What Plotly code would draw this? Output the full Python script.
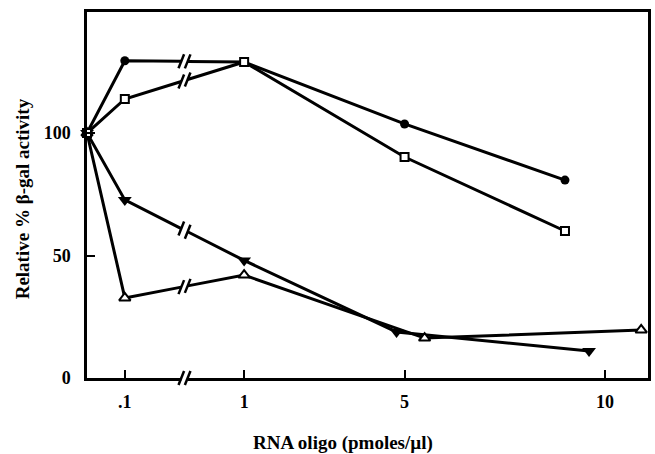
import numpy as np
import plotly.graph_objects as go

# ---------------- data ----------------
conc_circle = [0, 0.1, 1, 5, 9]
val_circle = [100, 129.5, 129, 103.7, 80.8]

conc_square = [0, 0.1, 1, 5, 9]
val_square = [100, 113.9, 129, 90.2, 60]

conc_down = [0, 0.1, 1, 4.8, 9.6]
val_down = [100, 72.7, 48, 18.8, 11]

conc_up = [0, 0.1, 1, 5.5, 10.9]
val_up = [100, 32.7, 42, 16.3, 19.6]

x_tick_conc = [0.1, 1, 5, 10]
x_tick_text = [".1", "1", "5", "10"]
y_tick_vals = [0, 50, 100]
y_tick_text = ["0", "50", "100"]

# ---------------- broken-axis scale ----------------
U0, U01 = -2.918, -1.975          # axis coordinate of conc 0 and 0.1
XR = [U0, 11.07]
YR = [0, 149.4]
W, H = 655, 454
ML, MR, MT, MB = 87, 4, 12, 76
PW, PH = W - ML - MR, H - MT - MB
PXU = PW / (XR[1] - XR[0])        # px per x unit
PYU = PH / (YR[1] - YR[0])        # px per y unit


def to_u(c):
    c = np.asarray(c, dtype=float)
    return np.where(c <= 1, np.interp(c, [0, 0.1, 1], [U0, U01, 1.0]), c)


UBREAK = (U01 + 1.0) / 2
GAP = 3.2  # px half gap
shapes = []


def slash(xc, yc, xref="x", yref="y", ypaper=False):
    dx = 2.8 / PXU
    dy = (7 / PH) if ypaper else (7 / PYU)
    return dict(type="line", xref=xref, yref=yref, x0=xc - dx, y0=yc - dy,
                x1=xc + dx, y1=yc + dy, line=dict(color="black", width=2.5),
                layer="above")


def series_with_break(conc, vals):
    u = to_u(conc)
    xs, ys = [], []
    for i in range(len(u)):
        xs.append(u[i]); ys.append(vals[i])
        if i + 1 < len(u) and u[i] < UBREAK < u[i + 1]:
            def yat(x):
                return vals[i] + (vals[i + 1] - vals[i]) * (x - u[i]) / (u[i + 1] - u[i])
            xa, xb = UBREAK - GAP / PXU, UBREAK + GAP / PXU
            xs += [xa, None, xb]
            ys += [yat(xa), None, yat(xb)]
            shapes.append(slash(xa, yat(xa)))
            shapes.append(slash(xb, yat(xb)))
    return xs, ys


fig = go.Figure()
series = [
    (conc_circle, val_circle, dict(symbol="circle", size=9, color="black")),
    (conc_down, val_down, dict(symbol="triangle-down", size=12, color="black")),
    (conc_up, val_up, dict(symbol="triangle-up", size=10, color="white",
                           line=dict(color="black", width=2))),
    (conc_square, val_square, dict(symbol="square", size=8, color="white",
                                   line=dict(color="black", width=2))),
]
for conc, vals, mk in series:
    xs, ys = series_with_break(conc, vals)
    fig.add_trace(go.Scatter(x=xs, y=ys, mode="lines", line=dict(color="black", width=3),
                             connectgaps=False, cliponaxis=False, hoverinfo="skip"))
for conc, vals, mk in series:
    fig.add_trace(go.Scatter(x=to_u(conc), y=vals, mode="markers", marker=mk,
                             cliponaxis=False))

# x-axis break
xa, xb = UBREAK - GAP / PXU, UBREAK + GAP / PXU
shapes.append(dict(type="rect", xref="x", yref="paper", x0=xa, x1=xb, y0=-4 / PH, y1=4 / PH,
                   fillcolor="white", line=dict(width=0), layer="above"))
shapes.append(slash(xa, 0, yref="paper", ypaper=True))
shapes.append(slash(xb, 0, yref="paper", ypaper=True))

font = "Liberation Serif, Times New Roman, serif"
fig.update_layout(
    width=W, height=H, margin=dict(l=ML, r=MR, t=MT, b=MB),
    plot_bgcolor="white", paper_bgcolor="white", showlegend=False,
    shapes=shapes,
    font=dict(family=font, color="black"),
    xaxis=dict(range=XR, tickvals=list(to_u(x_tick_conc)), ticktext=x_tick_text,
               ticks="inside", ticklen=8, tickwidth=2, tickcolor="black",
               showline=True, linecolor="black", linewidth=2.5, mirror=True,
               showgrid=False, zeroline=False, ticklabelstandoff=6,
               tickfont=dict(size=18, weight="bold", family=font)),
    yaxis=dict(range=YR, tickvals=y_tick_vals, ticktext=y_tick_text,
               ticks="inside", ticklen=8, tickwidth=2, tickcolor="black",
               showline=True, linecolor="black", linewidth=2.5, mirror=True,
               showgrid=False, zeroline=False, ticklabelstandoff=10,
               tickfont=dict(size=18, weight="bold", family=font)),
    annotations=[
        dict(text="Relative % β-gal activity", textangle=-90, xref="paper", yref="paper",
             x=(22 - ML) / PW, y=(378 - 199) / PH, xanchor="center", yanchor="middle",
             showarrow=False, font=dict(size=19, weight="bold", family=font)),
        dict(text="RNA oligo (pmoles/µl)", xref="paper", yref="paper",
             x=(344 - ML) / PW, y=(378 - 443) / PH, xanchor="center", yanchor="middle",
             showarrow=False, font=dict(size=19, weight="bold", family=font)),
    ],
)
fig.write_html("out.html", config={"displayModeBar": False},
               post_script="document.body.style.margin='0px';document.body.style.overflow='hidden';")
